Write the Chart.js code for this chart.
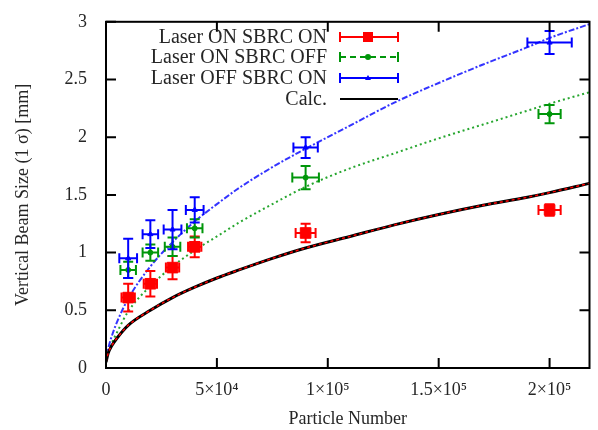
<!DOCTYPE html>
<html>
<head>
<meta charset="utf-8">
<script src="https://cdn.jsdelivr.net/npm/chart.js@4.4.1/dist/chart.umd.min.js"></script>
<style>
  body { margin: 0; background: #fff; }
  #wrap { width: 598px; height: 430px; }
</style>
</head>
<body>
<div id="wrap"><canvas id="beamChart" width="598" height="430"></canvas></div>
<script>
// measured points
const particleN = [10000, 20000, 30000, 40000, 90000, 200000];

const redY = [0.61, 0.73, 0.87, 1.05, 1.17, 1.37];
const redYErr = [0.12, 0.11, 0.10, 0.09, 0.08, 0.05];
const redXErr = [3000, 3000, 3000, 3000, 4500, 5000];

const greenY = [0.85, 1.00, 1.05, 1.21, 1.65, 2.20];
const greenYErr = [0.07, 0.07, 0.08, 0.08, 0.10, 0.08];
const greenXErr = [3500, 3500, 3500, 3500, 6000, 5000];

const blueY = [0.95, 1.16, 1.20, 1.37, 1.91, 2.82];
const blueYErr = [0.17, 0.12, 0.17, 0.11, 0.09, 0.10];
const blueXErr = [4000, 3500, 4000, 4000, 5500, 10000];

// curves
const curveN = [0, 1000, 2500, 5000, 10000, 20000, 30000, 40000, 50000, 60000, 75000,
                90000, 110000, 130000, 150000, 170000, 190000, 200000, 218000];
const calcY  = [0.05, 0.13, 0.19, 0.26, 0.37, 0.50, 0.61, 0.70, 0.78, 0.85, 0.95,
                1.04, 1.14, 1.24, 1.33, 1.41, 1.48, 1.52, 1.60];
const blueFitY = [0.08, 0.17, 0.27, 0.40, 0.60, 0.88, 1.09, 1.27, 1.42, 1.56, 1.74,
                  1.90, 2.10, 2.30, 2.47, 2.63, 2.78, 2.86, 2.98];
const greenFitY = [0.06, 0.13, 0.21, 0.31, 0.49, 0.71, 0.88, 1.02, 1.14, 1.26, 1.42,
                   1.57, 1.73, 1.86, 1.99, 2.11, 2.23, 2.29, 2.39];

const xTicks = [0, 50000, 100000, 150000, 200000];
const xTickLabels = ['0', '5×10⁴', '1×10⁵', '1.5×10⁵', '2×10⁵'];
const yTicks = [0, 0.5, 1, 1.5, 2, 2.5, 3];
const yTickLabels = ['0', '0.5', '1', '1.5', '2', '2.5', '3'];

const legendLabels = ['Laser ON SBRC ON', 'Laser ON SBRC OFF', 'Laser OFF SBRC ON', 'Calc.'];

const RED = '#ff0000', GREEN = '#00960a', BLUE = '#0000ff';
const SERIF = '"Liberation Serif", "DejaVu Serif", serif';
const TEXT = '#262626';

const pts = (xs, ys) => xs.map((x, i) => ({x: x, y: ys[i]}));

const errorBars = {
  id: 'errorBars',
  beforeDatasetDraw(chart, args) {
    const ds = chart.data.datasets[args.index];
    if (!ds.yErr) return;
    const xs = chart.scales.x, ys = chart.scales.y, ctx = chart.ctx;
    const cap = 5;
    ctx.save();
    ctx.strokeStyle = ds.borderColor;
    ctx.lineWidth = 2;
    ds.data.forEach((p, i) => {
      const px = xs.getPixelForValue(p.x), py = ys.getPixelForValue(p.y);
      const x0 = xs.getPixelForValue(p.x - ds.xErr[i]), x1 = xs.getPixelForValue(p.x + ds.xErr[i]);
      const y0 = ys.getPixelForValue(p.y - ds.yErr[i]), y1 = ys.getPixelForValue(p.y + ds.yErr[i]);
      ctx.beginPath();
      ctx.moveTo(x0, py); ctx.lineTo(x1, py);
      ctx.moveTo(px, y0); ctx.lineTo(px, y1);
      ctx.moveTo(x0, py - cap); ctx.lineTo(x0, py + cap);
      ctx.moveTo(x1, py - cap); ctx.lineTo(x1, py + cap);
      ctx.moveTo(px - cap, y0); ctx.lineTo(px + cap, y0);
      ctx.moveTo(px - cap, y1); ctx.lineTo(px + cap, y1);
      ctx.stroke();
    });
    ctx.restore();
  }
};

// gnuplot style frame with inward ticks + legend
const frame = {
  id: 'frame',
  afterDraw(chart) {
    const {ctx, chartArea: a} = chart;
    const xs = chart.scales.x, ys = chart.scales.y;
    const tl = 10;
    ctx.save();
    ctx.strokeStyle = '#000';
    ctx.lineWidth = 2;
    ctx.strokeRect(a.left, a.top, a.right - a.left, a.bottom - a.top);
    ctx.beginPath();
    xTicks.forEach(v => {
      const px = xs.getPixelForValue(v);
      ctx.moveTo(px, a.bottom); ctx.lineTo(px, a.bottom - tl);
      ctx.moveTo(px, a.top); ctx.lineTo(px, a.top + tl);
    });
    yTicks.forEach(v => {
      const py = ys.getPixelForValue(v);
      ctx.moveTo(a.left, py); ctx.lineTo(a.left + tl, py);
      ctx.moveTo(a.right, py); ctx.lineTo(a.right - tl, py);
    });
    ctx.stroke();

    // legend
    const rows = [37, 57, 78, 99];
    const colors = [RED, GREEN, BLUE, '#000'];
    const lx0 = 340, lx1 = 398, lxm = 368;
    ctx.font = '20px ' + SERIF;
    ctx.fillStyle = TEXT;
    ctx.textAlign = 'right';
    ctx.textBaseline = 'middle';
    legendLabels.forEach((t, i) => ctx.fillText(t, 327, rows[i] + 1));
    rows.forEach((y, i) => {
      ctx.strokeStyle = colors[i];
      ctx.fillStyle = colors[i];
      ctx.lineWidth = 2;
      ctx.setLineDash(i === 1 ? [6, 4] : []);
      ctx.beginPath();
      ctx.moveTo(lx0, y); ctx.lineTo(lx1, y);
      ctx.stroke();
      ctx.setLineDash([]);
      if (i < 3) {
        ctx.beginPath();
        ctx.moveTo(lx0, y - 5); ctx.lineTo(lx0, y + 5);
        ctx.moveTo(lx1, y - 5); ctx.lineTo(lx1, y + 5);
        ctx.stroke();
      }
      if (i === 0) ctx.fillRect(lxm - 5, y - 5, 10, 10);
      if (i === 1) { ctx.beginPath(); ctx.arc(lxm, y, 3, 0, Math.PI * 2); ctx.fill(); }
      if (i === 2) {
        ctx.beginPath();
        ctx.moveTo(lxm, y - 3); ctx.lineTo(lxm + 3, y + 2); ctx.lineTo(lxm - 3, y + 2);
        ctx.closePath(); ctx.fill();
      }
    });
    ctx.restore();
  }
};

const pointSet = (ys, yErr, xErr, color, style, r) => ({
  data: pts(particleN, ys),
  yErr: yErr, xErr: xErr,
  showLine: false,
  borderColor: color,
  backgroundColor: color,
  pointStyle: style,
  pointRadius: r,
  pointBorderWidth: 1
});

const lineSet = (ys, color, dash, width) => ({
  data: pts(curveN, ys),
  showLine: true,
  borderColor: color,
  borderWidth: width,
  borderDash: dash,
  pointRadius: 0,
  cubicInterpolationMode: 'monotone'
});

new Chart(document.getElementById('beamChart'), {
  type: 'scatter',
  data: {
    datasets: [
      pointSet(blueY, blueYErr, blueXErr, BLUE, 'triangle', 3),
      pointSet(greenY, greenYErr, greenXErr, GREEN, 'circle', 2.5),
      pointSet(redY, redYErr, redXErr, RED, 'rect', 7.5),
      lineSet(calcY, RED, [3, 3], 1.5),
      lineSet(calcY, '#000', [], 3),
      lineSet(blueFitY, 'rgba(30,30,255,0.9)', [6, 2, 2, 2], 2),
      lineSet(greenFitY, 'rgba(0,150,10,0.85)', [2, 3], 2)
    ]
  },
  options: {
    responsive: false,
    animation: false,
    layout: { padding: { left: 0, right: 1, top: 19, bottom: 0 } },
    plugins: { legend: { display: false }, tooltip: { enabled: false } },
    scales: {
      x: {
        type: 'linear', min: 0, max: 218000,
        grid: { display: false }, border: { display: false },
        afterBuildTicks: s => { s.ticks = xTicks.map(v => ({value: v})); },
        afterFit: s => { s.height = 62; },
        ticks: {
          padding: 3, maxRotation: 0, autoSkip: false,
          color: TEXT, font: { family: SERIF, size: 18 },
          callback: v => xTickLabels[xTicks.indexOf(v)]
        },
        title: {
          display: true, text: 'Particle Number', color: TEXT,
          font: { family: SERIF, size: 18 }, padding: { top: 1, bottom: 0 }
        }
      },
      y: {
        type: 'linear', min: 0, max: 3,
        grid: { display: false }, border: { display: false },
        afterBuildTicks: s => { s.ticks = yTicks.map(v => ({value: v})); },
        afterFit: s => { s.width = 106; },
        ticks: {
          padding: 11, color: TEXT, font: { family: SERIF, size: 18 },
          callback: v => yTickLabels[yTicks.indexOf(v)]
        },
        title: {
          display: true, text: 'Vertical Beam Size (1 σ) [mm]', color: TEXT,
          font: { family: SERIF, size: 18 }, padding: { top: 12, bottom: 0 }
        }
      }
    }
  },
  plugins: [errorBars, frame]
});
</script>
</body>
</html>
